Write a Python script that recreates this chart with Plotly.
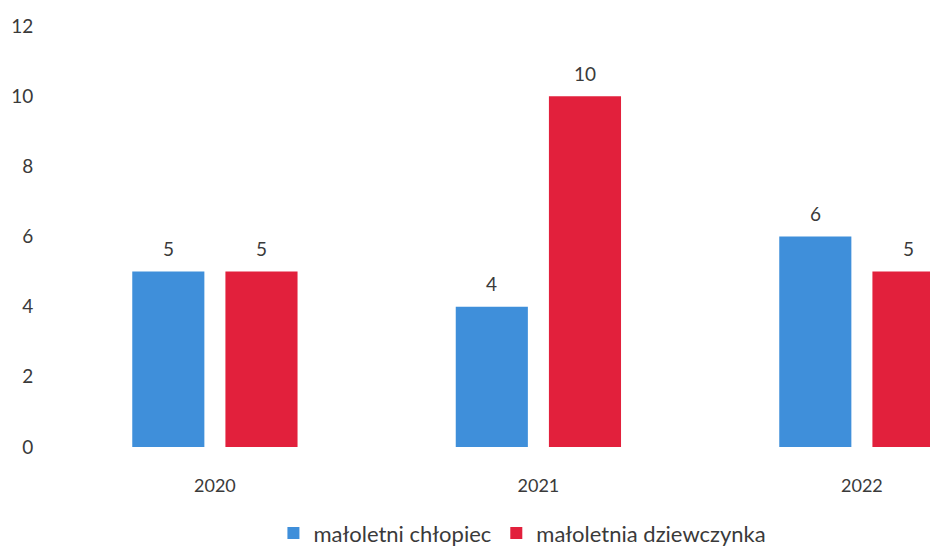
import plotly.graph_objects as go

years = ["2020", "2021", "2022"]
boys = [5, 4, 6]
girls = [5, 10, 5]
series_names = ["małoletni chłopiec", "małoletnia dziewczynka"]
colors = ["#3f8fda", "#e2203c"]
y_ticks = [0, 2, 4, 6, 8, 10, 12]

font_fam = "Lato, 'Open Sans', sans-serif"
txt_col = "#3a3a3a"

fig = go.Figure()
offsets = [-0.144, 0.144]
for k, (name, vals, col) in enumerate(zip(series_names, [boys, girls], colors)):
    fig.add_trace(go.Bar(
        x=years, y=vals, name=name, marker=dict(color=col, line=dict(width=0)),
    ))
    for i, v in enumerate(vals):
        fig.add_annotation(x=i + offsets[k], y=v, text=str(v), showarrow=False,
                           yanchor="middle", yshift=23,
                           font=dict(size=19, color=txt_col, family=font_fam))

fig.update_layout(
    width=938, height=554,
    margin=dict(l=50, r=0, t=18, b=115),
    paper_bgcolor="white", plot_bgcolor="white",
    barmode="group", bargap=0.424, bargroupgap=0.226,
    font=dict(family=font_fam, color=txt_col),
    xaxis=dict(type="category", range=[-0.485, 2.26], showgrid=False, showline=False,
               zeroline=False, ticks="outside", ticklen=22, tickcolor="rgba(0,0,0,0)",
               tickfont=dict(size=18, color=txt_col)),
    yaxis=dict(range=[0, 12], tickvals=y_ticks, showgrid=False, showline=False,
               zeroline=False, ticks="outside", ticklen=20, tickcolor="rgba(0,0,0,0)",
               tickfont=dict(size=19, color=txt_col)),
    legend=dict(orientation="h", x=0.523, xanchor="center", y=-0.205, yanchor="middle",
                font=dict(size=22, color=txt_col), itemwidth=30, traceorder="normal"),
)

fig.write_html("out.html")
